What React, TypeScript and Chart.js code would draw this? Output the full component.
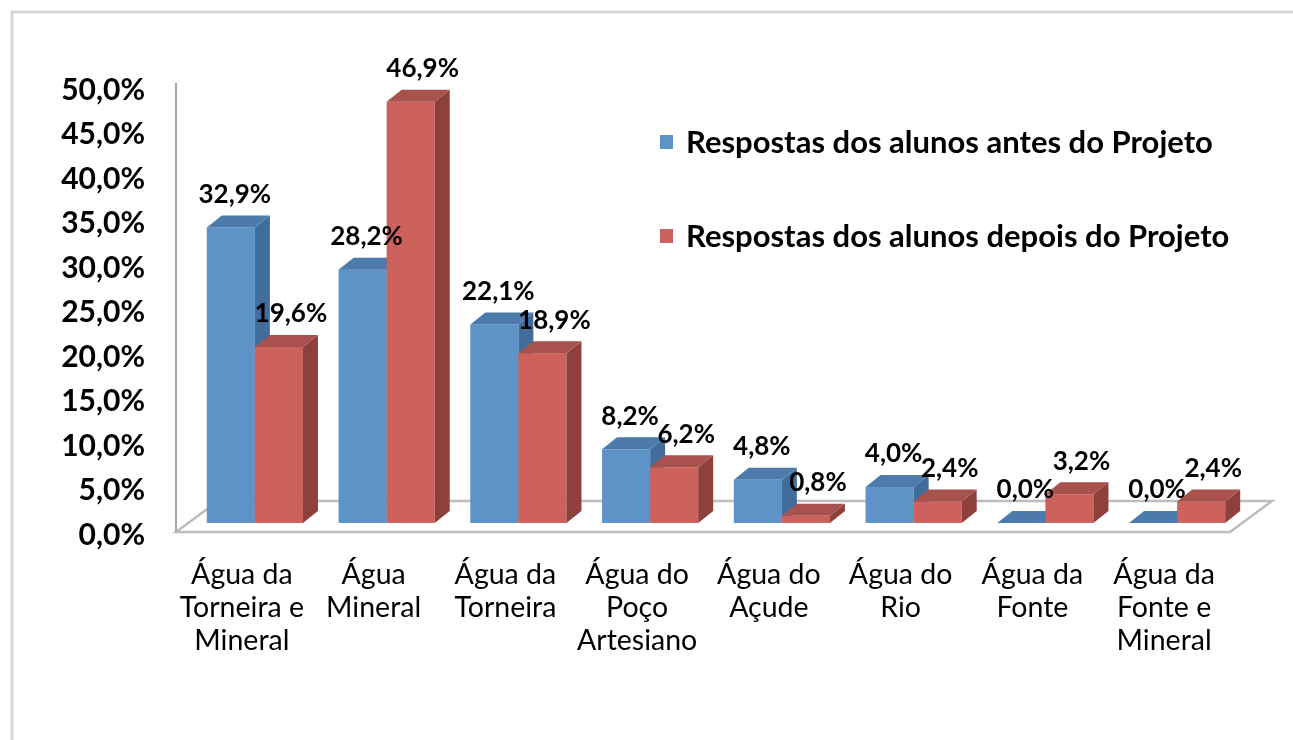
import React, { useEffect, useRef } from 'react';
import { Chart, registerables } from 'chart.js';

Chart.register(...registerables);

const categories: string[][] = [
  ['Água da', 'Torneira e', 'Mineral'],
  ['Água', 'Mineral'],
  ['Água da', 'Torneira'],
  ['Água do', 'Poço', 'Artesiano'],
  ['Água do', 'Açude'],
  ['Água do', 'Rio'],
  ['Água da', 'Fonte'],
  ['Água da', 'Fonte e', 'Mineral'],
];
const antesValues = [32.9, 28.2, 22.1, 8.2, 4.8, 4.0, 0.0, 0.0];
const depoisValues = [19.6, 46.9, 18.9, 6.2, 0.8, 2.4, 3.2, 2.4];
const seriesNames = [
  'Respostas dos alunos antes do Projeto',
  'Respostas dos alunos depois do Projeto',
];
const yTickValues = [0, 5, 10, 15, 20, 25, 30, 35, 40, 45, 50];

const FRONT = ['#5E93C8', '#CD625D'];
const TOP = ['#4C7AAB', '#A8514D'];
const SIDE = ['#416D9C', '#8D403C'];

const BAR_SHIFT_X = 13;
const BAR_DEPTH_X = 15;
const BAR_DEPTH_Y = 12;
const FLOOR_DEPTH_X = 42;
const FLOOR_DEPTH_Y = 31;
const LABEL_DX = [17, 25];
const LABEL_DY = 33;

const fmt = (v: number) => v.toFixed(1).replace('.', ',') + '%';

const bars3d = {
  id: 'bars3d',
  beforeDraw(chart: any) {
    const ctx = chart.ctx;
    const ca = chart.chartArea;
    ctx.save();
    ctx.strokeStyle = '#d6d6d6';
    ctx.lineWidth = 3;
    ctx.beginPath();
    ctx.moveTo(12, 740);
    ctx.lineTo(12, 12);
    ctx.lineTo(1293, 12);
    ctx.stroke();
    const fy = ca.bottom - 3;
    ctx.strokeStyle = '#bdbdbd';
    ctx.lineWidth = 2.5;
    ctx.beginPath();
    ctx.moveTo(ca.left, fy);
    ctx.lineTo(ca.right, fy);
    ctx.lineTo(ca.right + FLOOR_DEPTH_X, fy - FLOOR_DEPTH_Y);
    ctx.lineTo(ca.left + FLOOR_DEPTH_X, fy - FLOOR_DEPTH_Y);
    ctx.closePath();
    ctx.stroke();
    ctx.strokeStyle = '#a6a6a6';
    ctx.lineWidth = 2;
    ctx.beginPath();
    ctx.moveTo(ca.left, ca.top - 7);
    ctx.lineTo(ca.left, fy);
    ctx.stroke();
    ctx.restore();
  },
  beforeDatasetsDraw(chart: any) {
    const ctx = chart.ctx;
    const metas = [chart.getDatasetMeta(0), chart.getDatasetMeta(1)];
    const n = metas[0].data.length;
    ctx.save();
    for (let i = 0; i < n; i++) {
      for (let d = 0; d < 2; d++) {
        const el = metas[d].data[i];
        const w = el.width;
        const x0 = el.x - w / 2 + BAR_SHIFT_X;
        const x1 = x0 + w;
        const yt = el.y;
        const yb = el.base;
        ctx.fillStyle = FRONT[d];
        ctx.fillRect(x0, yt, w, yb - yt);
        ctx.fillStyle = SIDE[d];
        ctx.beginPath();
        ctx.moveTo(x1, yt);
        ctx.lineTo(x1 + BAR_DEPTH_X, yt - BAR_DEPTH_Y);
        ctx.lineTo(x1 + BAR_DEPTH_X, yb - BAR_DEPTH_Y);
        ctx.lineTo(x1, yb);
        ctx.closePath();
        ctx.fill();
        ctx.fillStyle = TOP[d];
        ctx.beginPath();
        ctx.moveTo(x0, yt);
        ctx.lineTo(x0 + BAR_DEPTH_X, yt - BAR_DEPTH_Y);
        ctx.lineTo(x1 + BAR_DEPTH_X, yt - BAR_DEPTH_Y);
        ctx.lineTo(x1, yt);
        ctx.closePath();
        ctx.fill();
      }
    }
    ctx.restore();
    return false;
  },
  afterDraw(chart: any) {
    const ctx = chart.ctx;
    ctx.save();
    ctx.font = 'bold 26px Lato';
    ctx.fillStyle = '#000';
    ctx.textAlign = 'center';
    ctx.textBaseline = 'middle';
    for (let d = 0; d < 2; d++) {
      const meta = chart.getDatasetMeta(d);
      const vals = chart.data.datasets[d].data;
      meta.data.forEach((el: any, i: number) => {
        ctx.fillText(fmt(vals[i]), el.x + LABEL_DX[d], el.y - LABEL_DY);
      });
    }
    ctx.font = 'bold 31px Lato';
    ctx.textAlign = 'left';
    const legendY = [143, 237];
    chart.data.datasets.forEach((ds: any, d: number) => {
      ctx.fillStyle = FRONT[d];
      ctx.fillRect(660, legendY[d] - 8, 13, 14);
      ctx.fillStyle = '#000';
      ctx.fillText(ds.label, 686, legendY[d]);
    });
    ctx.restore();
  },
};

export default function App() {
  const ref = useRef<HTMLCanvasElement | null>(null);
  useEffect(() => {
    if (!ref.current) return;
    const chart = new Chart(ref.current, {
      type: 'bar',
      data: {
        labels: categories,
        datasets: [
          { label: seriesNames[0], data: antesValues, backgroundColor: FRONT[0], yAxisID: 'yb' },
          { label: seriesNames[1], data: depoisValues, backgroundColor: FRONT[1], yAxisID: 'yb' },
        ],
      },
      options: {
        responsive: false,
        animation: false,
        events: [],
        layout: { padding: { top: 90, right: 63, left: 0, bottom: 0 } },
        datasets: { bar: { categoryPercentage: 0.73, barPercentage: 1 } },
        plugins: { legend: { display: false }, tooltip: { enabled: false }, title: { display: false } },
        scales: {
          x: {
            grid: { display: false, drawTicks: false },
            border: { display: false },
            ticks: {
              autoSkip: false,
              maxRotation: 0,
              padding: 23.5,
              color: '#000',
              font: { family: 'Lato', size: 28.5, lineHeight: 1.16 },
            },
            afterFit: (s: any) => { s.height = 205; },
          },
          y: {
            min: 0,
            max: 50,
            position: 'left',
            grid: { display: false, drawTicks: false },
            border: { display: false },
            afterBuildTicks: (s: any) => { s.ticks = yTickValues.map((v) => ({ value: v })); },
            ticks: {
              padding: 31,
              color: '#000',
              font: { family: 'Lato', size: 30, weight: 'bold' },
              callback: (v: any) => fmt(Number(v)),
            },
            afterFit: (s: any) => { s.width = 176; },
          },
          yb: {
            type: 'linear',
            display: false,
            position: 'left',
            min: -1.34,
            max: 48.2,
          },
        },
      },
      plugins: [bars3d],
    } as any);
    return () => chart.destroy();
  }, []);
  return (
    <div style={{ position: 'fixed', left: 0, top: 0, width: 1293, height: 740, background: '#fff' }}>
      <canvas ref={ref} width={1293} height={740} style={{ display: 'block' }} />
    </div>
  );
}
